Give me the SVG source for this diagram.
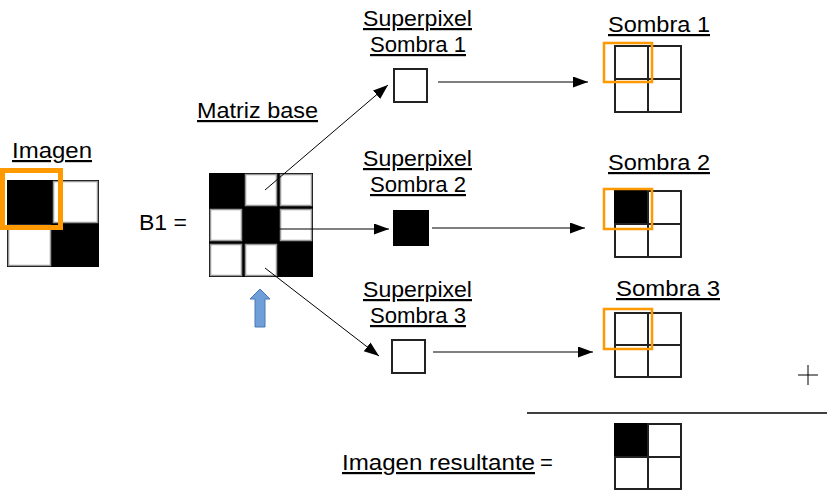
<svg xmlns="http://www.w3.org/2000/svg" width="827" height="491" viewBox="0 0 827 491">
<style>
text{font-family:"Liberation Sans",Arial,sans-serif;font-size:22px;fill:#000}
.u{text-decoration:underline}
.cw{fill:#fff;stroke:#222;stroke-width:2}
.cb{fill:#000;stroke:#000;stroke-width:2}
.ci{fill:#fff;stroke:#999;stroke-width:1.5}
.or{fill:none;stroke:#ff9900}
.ln{stroke:#000;stroke-width:1;fill:none}
</style>
<defs>
<marker id="ah" markerUnits="userSpaceOnUse" markerWidth="16" markerHeight="12" refX="15" refY="5.5" orient="auto">
<path d="M0,0 L15,5.5 L0,11 z" fill="#000"/>
</marker>
</defs>
<rect width="827" height="491" fill="#fff"/>

<g id="imagen">
<text class="u" x="12" y="158" textLength="80" lengthAdjust="spacingAndGlyphs">Imagen</text>
<rect x="7" y="180" width="92" height="87" fill="#000"/>
<rect class="ci" x="53.5" y="181.5" width="44" height="41"/>
<rect class="ci" x="8.5" y="225.5" width="42" height="40"/>
<rect class="or" x="2.5" y="170.5" width="58" height="57" stroke-width="5"/>
</g>

<g id="matriz-base">
<text class="u" x="197" y="118" textLength="121" lengthAdjust="spacingAndGlyphs">Matriz base</text>
<text x="139" y="230" textLength="48" lengthAdjust="spacingAndGlyphs">B1 =</text>
<rect x="209" y="173" width="104" height="104" fill="#000"/>
<rect class="ci" x="245.5" y="174.5" width="31" height="31"/>
<rect class="ci" x="280.5" y="174.5" width="31" height="31"/>
<rect class="ci" x="210.5" y="209.5" width="31" height="31"/>
<rect class="ci" x="280.5" y="209.5" width="31" height="31"/>
<rect class="ci" x="210.5" y="244.5" width="31" height="31"/>
<rect class="ci" x="245.5" y="244.5" width="31" height="31"/>
</g>

<g id="flecha-azul">
<polygon points="260,289 270,299 265,299 265,327 255,327 255,299 250,299" fill="#6f9fd8" stroke="#4a78b0" stroke-width="1"/>
</g>

<g id="superpixel-1">
<text class="u" x="417.5" y="26" text-anchor="middle" textLength="109" lengthAdjust="spacingAndGlyphs">Superpixel</text>
<text class="u" x="418" y="52" text-anchor="middle" textLength="96" lengthAdjust="spacingAndGlyphs">Sombra 1</text>
<rect class="cw" x="394" y="69" width="33" height="33"/>
</g>

<g id="superpixel-2">
<text class="u" x="417.5" y="166" text-anchor="middle" textLength="109" lengthAdjust="spacingAndGlyphs">Superpixel</text>
<text class="u" x="418" y="192" text-anchor="middle" textLength="96" lengthAdjust="spacingAndGlyphs">Sombra 2</text>
<rect class="cb" x="394" y="211" width="34" height="34"/>
</g>

<g id="superpixel-3">
<text class="u" x="417.5" y="297" text-anchor="middle" textLength="109" lengthAdjust="spacingAndGlyphs">Superpixel</text>
<text class="u" x="418" y="323" text-anchor="middle" textLength="96" lengthAdjust="spacingAndGlyphs">Sombra 3</text>
<rect class="cw" x="392" y="340" width="33" height="33"/>
</g>

<g id="sombra-1">
<text class="u" x="608" y="32" textLength="102" lengthAdjust="spacingAndGlyphs">Sombra 1</text>
<rect class="cw" x="615" y="46" width="33" height="33"/>
<rect class="cw" x="648" y="46" width="33" height="33"/>
<rect class="cw" x="615" y="79" width="33" height="33"/>
<rect class="cw" x="648" y="79" width="33" height="33"/>
<rect class="or" x="604" y="43" width="48" height="39" stroke-width="2.5"/>
</g>

<g id="sombra-2">
<text class="u" x="608" y="170" textLength="102" lengthAdjust="spacingAndGlyphs">Sombra 2</text>
<rect class="cb" x="615" y="191" width="33" height="33"/>
<rect class="cw" x="648" y="191" width="33" height="33"/>
<rect class="cw" x="615" y="224" width="33" height="33"/>
<rect class="cw" x="648" y="224" width="33" height="33"/>
<rect class="or" x="604" y="189" width="48" height="40" stroke-width="2.5"/>
</g>

<g id="sombra-3">
<text class="u" x="616" y="296" textLength="104" lengthAdjust="spacingAndGlyphs">Sombra 3</text>
<rect class="cw" x="615" y="313" width="33" height="32"/>
<rect class="cw" x="648" y="313" width="33" height="32"/>
<rect class="cw" x="615" y="345" width="33" height="32"/>
<rect class="cw" x="648" y="345" width="33" height="32"/>
<rect class="or" x="604" y="309" width="48" height="40" stroke-width="2.5"/>
</g>

<g id="suma">
<line class="ln" x1="798" y1="375" x2="818" y2="375"/>
<line class="ln" x1="808" y1="365" x2="808" y2="385"/>
<line x1="527" y1="413" x2="827" y2="413" stroke="#000" stroke-width="1.3"/>
</g>

<g id="resultado">
<text class="u" x="342" y="470" textLength="193" lengthAdjust="spacingAndGlyphs">Imagen resultante</text>
<text x="540" y="470">=</text>
<rect class="cb" x="615" y="424" width="33" height="33"/>
<rect class="cw" x="648" y="424" width="33" height="33"/>
<rect class="cw" x="615" y="457" width="33" height="32"/>
<rect class="cw" x="648" y="457" width="33" height="32"/>
</g>

<g id="conectores">
<line class="ln" x1="265" y1="190" x2="388" y2="85" marker-end="url(#ah)"/>
<line class="ln" x1="279" y1="229" x2="389" y2="229" marker-end="url(#ah)"/>
<line class="ln" x1="265" y1="268" x2="379" y2="356" marker-end="url(#ah)"/>
<line class="ln" x1="438" y1="82" x2="588" y2="82" marker-end="url(#ah)"/>
<line class="ln" x1="432" y1="228" x2="585" y2="228" marker-end="url(#ah)"/>
<line class="ln" x1="433" y1="352" x2="593" y2="352" marker-end="url(#ah)"/>
</g>
</svg>
